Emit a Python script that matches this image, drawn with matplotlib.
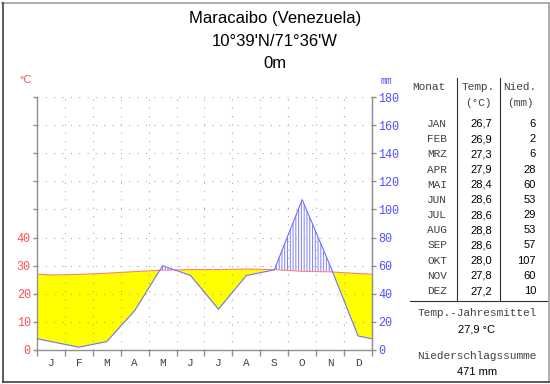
import matplotlib
matplotlib.use('Agg')
import matplotlib.pyplot as plt
import numpy as np

# ---- data ----
station = "Maracaibo (Venezuela)"
coords = "10°39'N/71°36'W"
elevation = "0m"
month_letters = ['J', 'F', 'M', 'A', 'M', 'J', 'J', 'A', 'S', 'O', 'N', 'D']
month_names = ['JAN', 'FEB', 'MRZ', 'APR', 'MAI', 'JUN', 'JUL', 'AUG', 'SEP', 'OKT', 'NOV', 'DEZ']
temp = [26.7, 26.9, 27.3, 27.9, 28.4, 28.6, 28.6, 28.8, 28.6, 28.0, 27.8, 27.2]
precip = [6, 2, 6, 28, 60, 53, 29, 53, 57, 107, 60, 10]
temp_ticks = [0, 10, 20, 30, 40]
precip_ticks = [0, 20, 40, 60, 80, 100, 120, 140, 160, 180]
temp_mean_label = "27,9 °C"
precip_sum_label = "471 mm"

W, H = 550, 384
MONO = 'Liberation Mono'
SANS = 'Liberation Sans'
RED = '#ff5050'
BLUE = '#5050ff'
GRAY = '#909090'
TXT = '#404040'

fig = plt.figure(figsize=(W / 100, H / 100), dpi=100)
fig.patch.set_facecolor('white')

def fx(px):
    return px / W

def fy(py):
    return 1 - py / H

ax = fig.add_axes([fx(37), fy(350), (372 - 37) / W, (350 - 97) / H])

x = np.arange(1, 13)
T2 = np.array(temp) * 2.0
P = np.array(precip, dtype=float)
eT = (T2[0] + T2[-1]) / 2
eP = (P[0] + P[-1]) / 2
xs = np.concatenate([[0.5], x, [12.5]])
Ts = np.concatenate([[eT], T2, [eT]])
Ps = np.concatenate([[eP], P, [eP]])

# grid (drawn above the fills, as in the reference)
for yv in precip_ticks[1:]:
    ax.axhline(yv, color='#a0a0a0', lw=0.75, ls=(0, (1, 7)), zorder=2)
for xv in np.arange(1.5, 12.5, 1):
    ax.axvline(xv, color='#a0a0a0', lw=0.75, ls=(0, (1, 7)), zorder=2)

plt.rcParams['hatch.linewidth'] = 0.7
ax.fill_between(xs, Ts, Ps, where=Ts >= Ps, interpolate=True, color='#ffff00', lw=0, zorder=1)
ax.fill_between(xs, Ts, Ps, where=Ps >= Ts, interpolate=True, facecolor='none',
                edgecolor='#8080ff', hatch='||||||', lw=0, zorder=1)
ax.plot(xs, Ts, color='#ff8080', lw=0.8, zorder=3)
ax.plot(xs, Ps, color='#7070ff', lw=0.8, zorder=3)

ax.set_xlim(0.5, 12.5)
ax.set_ylim(0, 180)
ax.spines['top'].set_visible(False)
for s in ['left', 'right', 'bottom']:
    ax.spines[s].set_color(GRAY)
    ax.spines[s].set_linewidth(1.0)

ax.set_xticks(np.arange(0.5, 13, 1))
ax.set_xticklabels([])
ax.set_xticks(x, minor=True)
ax.set_xticklabels(month_letters, minor=True, fontfamily=MONO, fontsize=8, color=TXT)
ax.tick_params(axis='x', which='major', length=4, color=GRAY, width=1)
ax.tick_params(axis='x', which='minor', length=0, pad=6)

ax.set_yticks(precip_ticks)
ax.set_yticklabels([str(t) for t in temp_ticks] + [''] * (len(precip_ticks) - len(temp_ticks)),
                   fontfamily=MONO, fontsize=8.5, color=RED)
ax.tick_params(axis='y', length=3, color=GRAY, width=1, pad=1.5)

ax2 = ax.twinx()
ax2.set_ylim(0, 180)
ax2.set_yticks(precip_ticks)
ax2.set_yticklabels([str(t) for t in precip_ticks], fontfamily=MONO, fontsize=8.5, color=BLUE)
ax2.tick_params(axis='y', length=3, color=GRAY, width=1, pad=1.5)
for s in ['top', 'left', 'bottom']:
    ax2.spines[s].set_visible(False)
ax2.spines['right'].set_color(GRAY)

# titles
fig.text(fx(275), fy(18), station, ha='center', va='center', fontfamily=SANS, fontsize=12)
fig.text(fx(275), fy(42), coords, ha='center', va='center', fontfamily=SANS, fontsize=12)
fig.text(fx(275), fy(63), elevation, ha='center', va='center', fontfamily=SANS, fontsize=12)
fig.text(fx(26), fy(80), '°C', ha='center', va='center', fontfamily=SANS, fontsize=8, color=RED)
fig.text(fx(386), fy(81), 'mm', ha='center', va='center', fontfamily=MONO, fontsize=7, color=BLUE)

# table
fig.text(fx(412), fy(87), 'Monat', ha='left', va='center', fontfamily=MONO, fontsize=8, color=TXT)
fig.text(fx(478), fy(87), 'Temp.', ha='center', va='center', fontfamily=MONO, fontsize=8, color=TXT)
fig.text(fx(478), fy(103), '(°C)', ha='center', va='center', fontfamily=MONO, fontsize=8, color=TXT)
fig.text(fx(520), fy(87), 'Nied.', ha='center', va='center', fontfamily=MONO, fontsize=8, color=TXT)
fig.text(fx(520), fy(103), '(mm)', ha='center', va='center', fontfamily=MONO, fontsize=8, color=TXT)
for i in range(12):
    yy = 124 + i * (291 - 124) / 11
    fig.text(fx(447), fy(yy), month_names[i], ha='right', va='center', fontfamily=MONO, fontsize=8, color=TXT)
    fig.text(fx(492), fy(yy), f"{temp[i]:.1f}".replace('.', ','), ha='right', va='center', fontfamily=SANS, fontsize=8)
    fig.text(fx(536), fy(yy), str(precip[i]), ha='right', va='center', fontfamily=SANS, fontsize=8)

fig.add_artist(plt.Line2D([fx(457), fx(457)], [fy(78), fy(301)], color='#303030', lw=0.8))
fig.add_artist(plt.Line2D([fx(500), fx(500)], [fy(78), fy(301)], color='#303030', lw=0.8))
fig.add_artist(plt.Line2D([fx(410), fx(548)], [fy(301), fy(301)], color='#303030', lw=0.8))

fig.text(fx(477), fy(313), 'Temp.-Jahresmittel', ha='center', va='center', fontfamily=MONO, fontsize=8, color=TXT)
fig.text(fx(477), fy(330), temp_mean_label, ha='center', va='center', fontfamily=SANS, fontsize=8)
fig.text(fx(477), fy(356), 'Niederschlagssumme', ha='center', va='center', fontfamily=MONO, fontsize=8, color=TXT)
fig.text(fx(477), fy(372), precip_sum_label, ha='center', va='center', fontfamily=SANS, fontsize=8)

# bevelled border: light top/right, dark left/bottom
fig.add_artist(plt.Line2D([fx(1.5), fx(548.5)], [fy(2.5), fy(2.5)], color='#a0a0a0', lw=1.2))
fig.add_artist(plt.Line2D([fx(548.5), fx(548.5)], [fy(2.5), fy(381.5)], color='#a0a0a0', lw=1.2))
fig.add_artist(plt.Line2D([fx(2.5), fx(2.5)], [fy(2.5), fy(381.5)], color='#404040', lw=1.2))
fig.add_artist(plt.Line2D([fx(2.5), fx(548.5)], [fy(381.5), fy(381.5)], color='#404040', lw=1.2))

fig.savefig('out.png', dpi=100)
